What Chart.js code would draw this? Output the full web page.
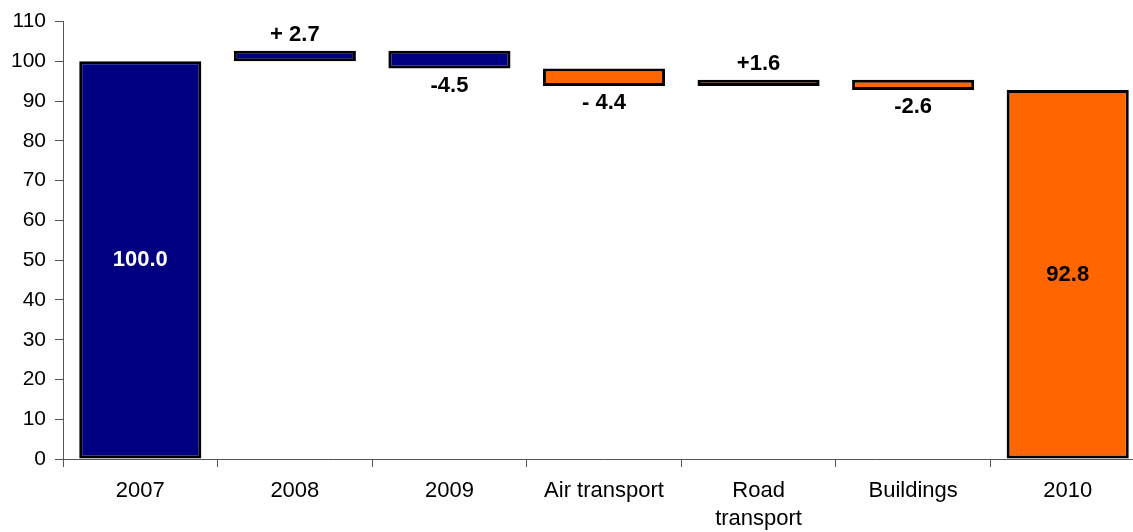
<!DOCTYPE html>
<html>
<head>
<meta charset="utf-8">
<script src="https://cdn.jsdelivr.net/npm/chart.js@4/dist/chart.umd.min.js"></script>
<style>
  html, body { margin: 0; padding: 0; background: #fff; overflow: hidden; }
  #wrap { width: 1145px; height: 532px; position: relative; }
</style>
</head>
<body>
<div id="wrap"><canvas id="chart"></canvas></div>
<script>
// Index change from 2007 to 2010, step by step
const categories = ['2007', '2008', '2009', 'Air transport', ['Road', 'transport'], 'Buildings', '2010'];
const changes = [100.0, 2.7, -4.5, -4.4, 1.6, -2.6, 92.8];
const isTotal = [true, false, false, false, false, false, true];
const valueLabels = ['100.0', '+ 2.7', '-4.5', '- 4.4', '+1.6', '-2.6', '92.8'];
const barColors = ['#000080', '#000080', '#000080', '#FF6600', '#FF6600', '#FF6600', '#FF6600'];
const yTicks = { min: 0, max: 110, step: 10 };

// Floating [low, high] ranges: totals stand on zero, steps start where the previous one ended
let running = 0;
const ranges = changes.map((v, i) => {
  if (isTotal[i]) { running = v; return [0, v]; }
  const start = running;
  running = +(running + v).toFixed(1);
  return [Math.min(start, running), Math.max(start, running)];
});

const FONT = "'Liberation Sans', Arial, Helvetica, sans-serif";

const valueLabelPlugin = {
  id: 'valueLabels',
  afterDatasetsDraw(chart) {
    const { ctx } = chart;
    const meta = chart.getDatasetMeta(0);
    const y = chart.scales.y;
    ctx.save();
    ctx.font = 'bold 22px ' + FONT;
    ctx.textAlign = 'center';
    ctx.textBaseline = 'middle';
    meta.data.forEach((bar, i) => {
      const [lo, hi] = ranges[i];
      let py;
      if (isTotal[i]) {
        py = y.getPixelForValue((lo + hi) / 2);
        ctx.fillStyle = barColors[i] === '#000080' ? '#ffffff' : '#000000';
      } else if (changes[i] > 0) {
        py = y.getPixelForValue(hi) - 16;
        ctx.fillStyle = '#000';
      } else {
        py = y.getPixelForValue(lo) + 17;
        ctx.fillStyle = '#000';
      }
      ctx.fillText(valueLabels[i], bar.x, py);
    });
    ctx.restore();
  }
};

new Chart(document.getElementById('chart'), {
  type: 'bar',
  data: {
    labels: categories,
    datasets: [{
      data: ranges,
      backgroundColor: barColors,
      borderColor: '#000',
      borderWidth: 3,
      borderSkipped: false,
      barPercentage: 0.79,
      categoryPercentage: 1.0
    }]
  },
  options: {
    responsive: true,
    maintainAspectRatio: false,
    animation: false,
    layout: { padding: { top: 20, right: 0, left: 0, bottom: 0 } },
    plugins: { legend: { display: false }, tooltip: { enabled: false } },
    scales: {
      x: {
        grid: { offset: true, drawOnChartArea: false, drawTicks: true, tickLength: 8, color: '#555', lineWidth: 1 },
        border: { color: '#555', width: 1 },
        ticks: { color: '#000', font: { family: FONT, size: 22, lineHeight: 1.27 }, padding: 10, maxRotation: 0, autoSkip: false },
        afterFit(scale) { scale.height = 73; }
      },
      y: {
        min: yTicks.min,
        max: yTicks.max,
        grid: { drawOnChartArea: false, drawTicks: true, tickLength: 8, color: '#555', lineWidth: 1 },
        border: { color: '#555', width: 1 },
        ticks: { stepSize: yTicks.step, color: '#000', font: { family: FONT, size: 21 }, padding: 9 },
        afterFit(scale) { scale.width = 63; }
      }
    }
  },
  plugins: [valueLabelPlugin]
});
</script>
</body>
</html>
